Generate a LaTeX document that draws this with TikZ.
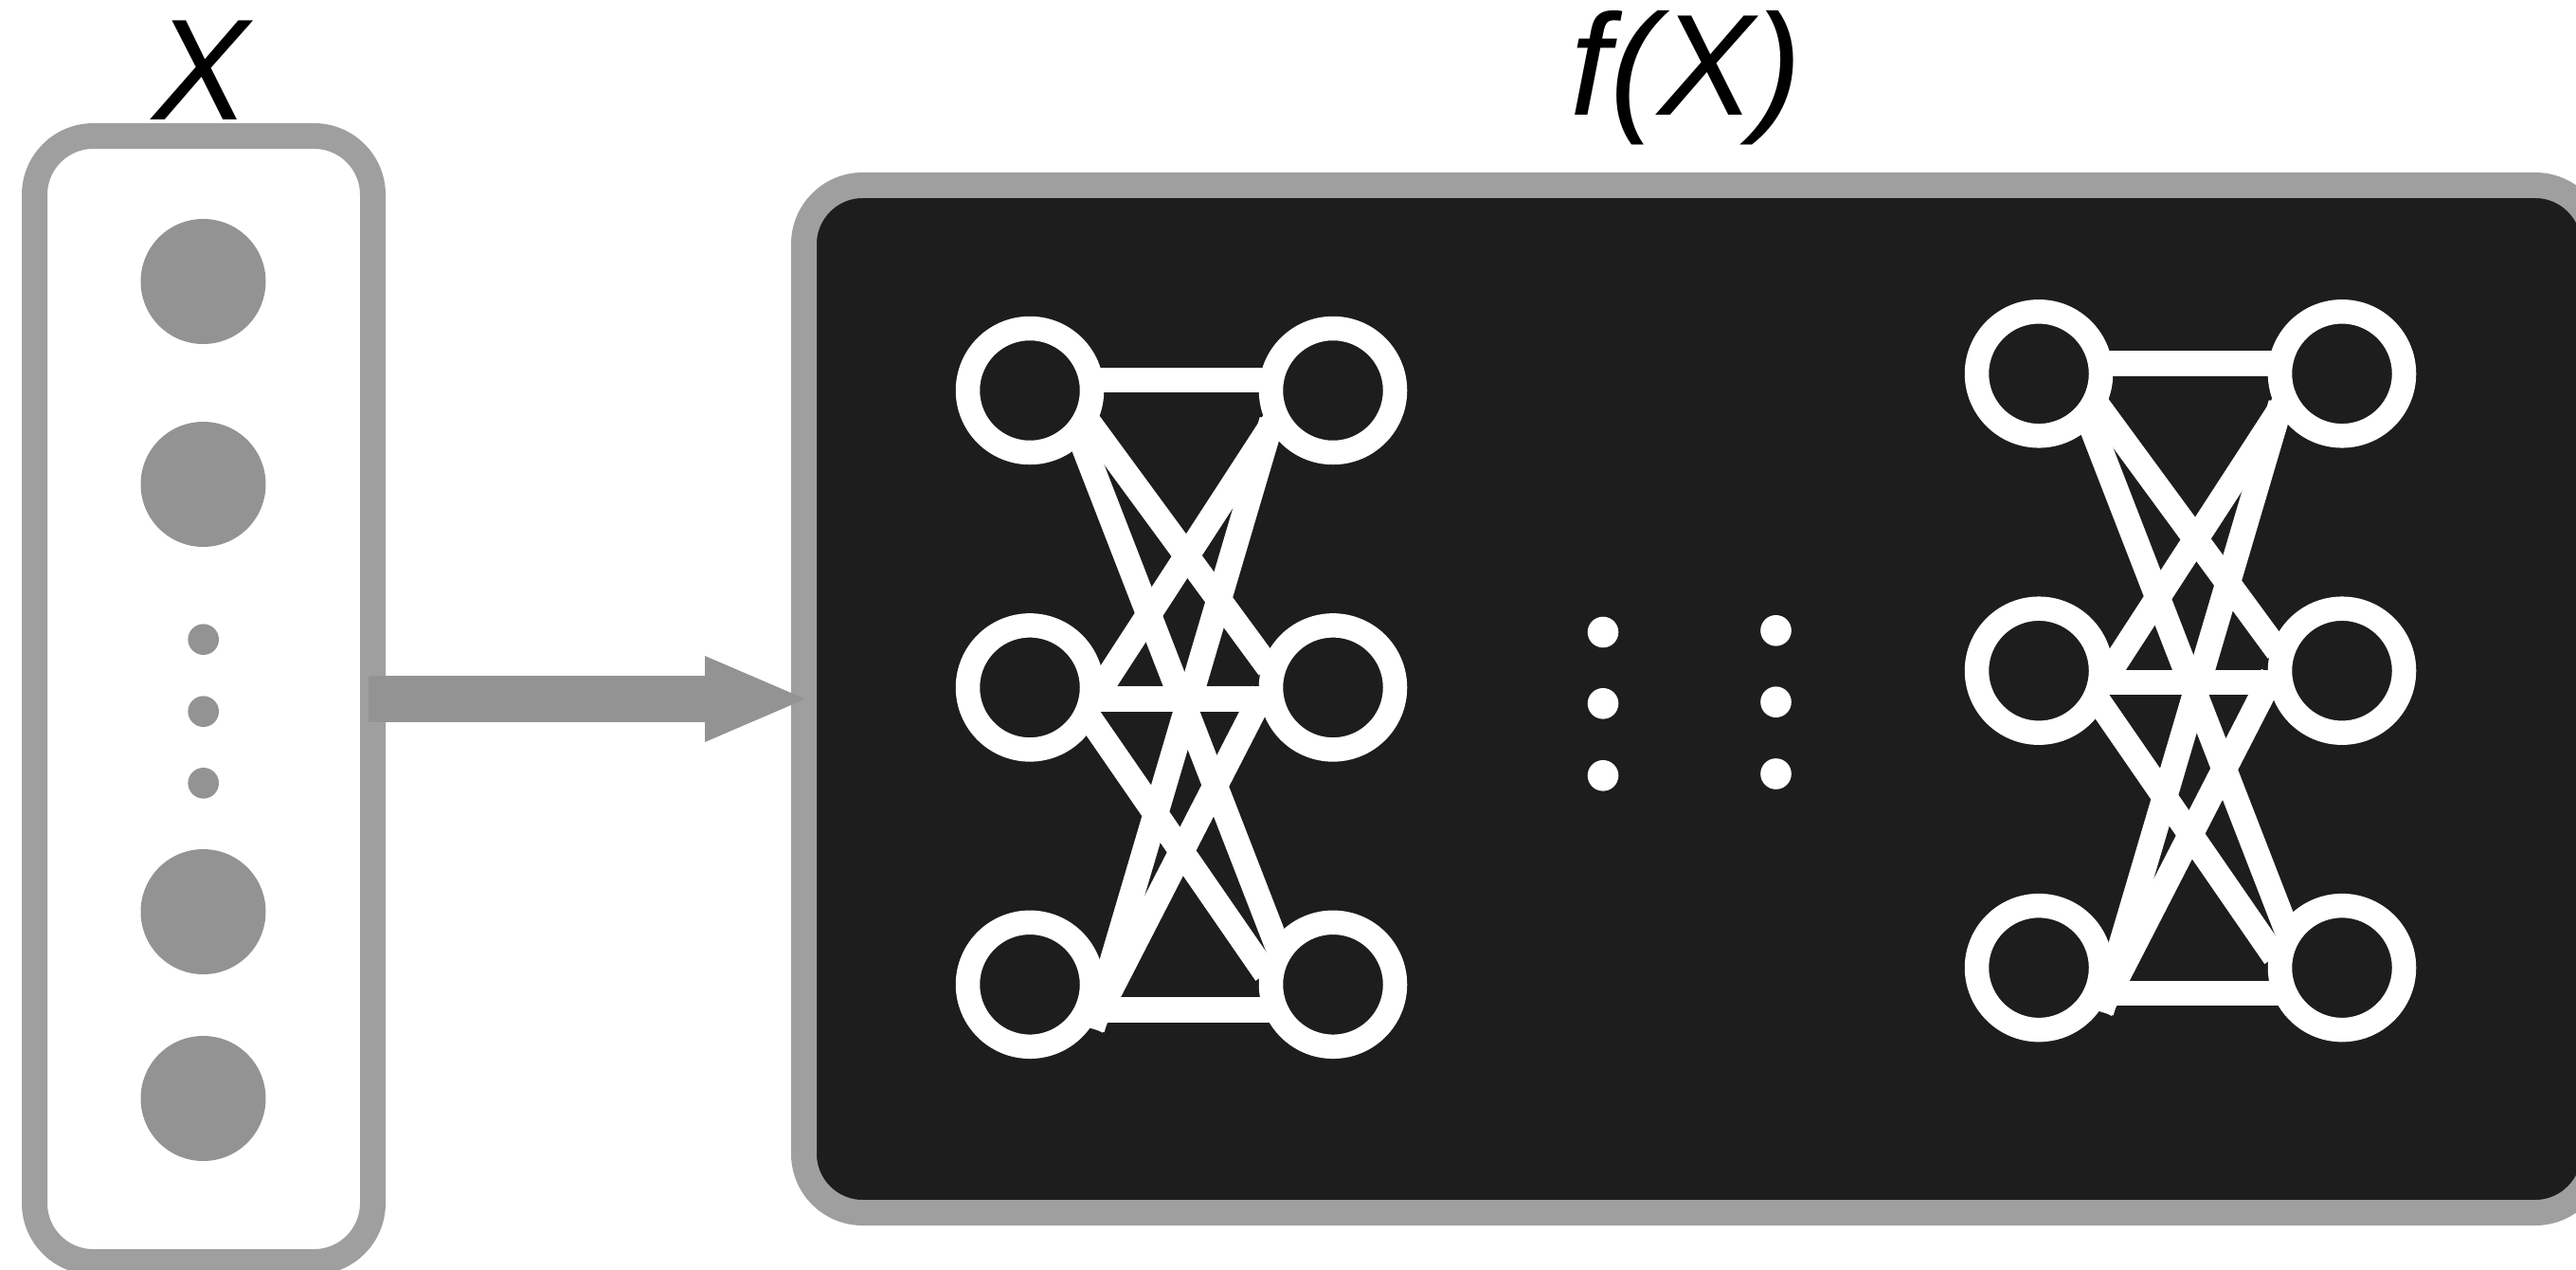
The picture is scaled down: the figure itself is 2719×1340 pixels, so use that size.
\documentclass[tikz,border=0pt]{standalone}
\usepackage{fontspec}
\setmainfont{Liberation Sans}
\usetikzlibrary{arrows.meta}
\definecolor{dk}{RGB}{29,29,29}
\definecolor{bord}{RGB}{159,159,159}
\definecolor{dotc}{RGB}{147,147,147}
\pgfdeclarelayer{bg}
\pgfdeclarelayer{edges}
\pgfsetlayers{bg,edges,main}
\begin{document}
\begin{tikzpicture}[x=1pt,y=-1pt,
  box/.style={rectangle, draw=bord, line width=27pt, rounded corners=62pt, inner sep=0pt, outer sep=0pt},
  neuron/.style={circle, draw=white, fill=dk, line width=25.5pt, minimum size=131pt, inner sep=0pt, outer sep=12.75pt},
  link/.style={draw=white, line width=26.5pt, shorten <=-9pt, shorten >=-9pt},
  bigdot/.style={circle, fill=dotc, minimum size=132pt, inner sep=0pt},
  smalldot/.style={circle, fill=dotc, minimum size=32.6pt, inner sep=0pt},
  wdot/.style={circle, fill=white, minimum size=32.6pt, inner sep=0pt},
  lbl/.style={font=\fontsize{152}{156}\selectfont\itshape, inner sep=0pt, anchor=base},
  flow/.style={draw=dotc, line width=49pt, -{Triangle[length=106pt,width=91pt,line width=0pt]}}
]
\useasboundingbox (0,0) rectangle (2719,1340);

\begin{pgfonlayer}{bg}
\node[box, fill=white, minimum width=357pt, minimum height=1188pt] (inbox) at (215,737.5) {};
\node[box, fill=dk, minimum width=1889.5pt, minimum height=1084pt] (fbox) at (1793.25,737.5) {};
\end{pgfonlayer}

% labels
\node[lbl] (xlab) at (212,127) {X};
\node[lbl] (flab) at (1780,122) {f(X)};

% input dots
\node[bigdot] (d1) at (214.5,297) {};
\node[bigdot] (d2) at (214.5,511) {};
\node[smalldot] (s1) at (214.7,674.7) {};
\node[smalldot] (s2) at (214.7,750.7) {};
\node[smalldot] (s3) at (214.7,826.3) {};
\node[bigdot] (d3) at (214.5,962) {};
\node[bigdot] (d4) at (214.5,1159) {};

% arrow
\draw[flow] ([xshift=-4.5pt]inbox.east) -- ([xshift=1.5pt]fbox.west);

% networks
\foreach \p/\dx/\dy in {A/0/0, B/1065/-17.7}{
  \begin{scope}[shift={(\dx,\dy)}]
    \node[neuron] (\p TL) at (1087,412) {};
    \node[neuron] (\p TR) at (1407,412) {};
    \node[neuron] (\p ML) at (1087,725.4) {};
    \node[neuron] (\p MR) at (1407,725.4) {};
    \node[neuron] (\p BL) at (1087,1038.8) {};
    \node[neuron] (\p BR) at (1407,1038.8) {};
  \end{scope}
}
\begin{pgfonlayer}{edges}
\foreach \p in {A,B}{
  \draw[link] (\p TL.8) -- (\p TR.172);
  \draw[link] (\p ML.351) -- (\p MR.189);
  \draw[link] (\p BL.340) -- (\p BR.200);
  \draw[link] (\p TL.329) -- (\p MR.159);
  \draw[link] (\p TL.315) -- (\p BR.142);
  \draw[link] (\p ML.3) -- (\p TR.211);
  \draw[link] (\p ML.330) -- (\p BR.166);
  \draw[link] (\p BL.331) -- (\p TR.211);
  \draw[link] (\p BL.332) -- (\p MR.189);
}
\end{pgfonlayer}

% ellipsis dots between networks
\node[wdot] (w1) at (1692,667) {};
\node[wdot] (w2) at (1692,742.3) {};
\node[wdot] (w3) at (1692,818.3) {};
\node[wdot] (w4) at (1874.5,665.3) {};
\node[wdot] (w5) at (1874.5,740.7) {};
\node[wdot] (w6) at (1874.5,816.5) {};
\end{tikzpicture}
\end{document}
